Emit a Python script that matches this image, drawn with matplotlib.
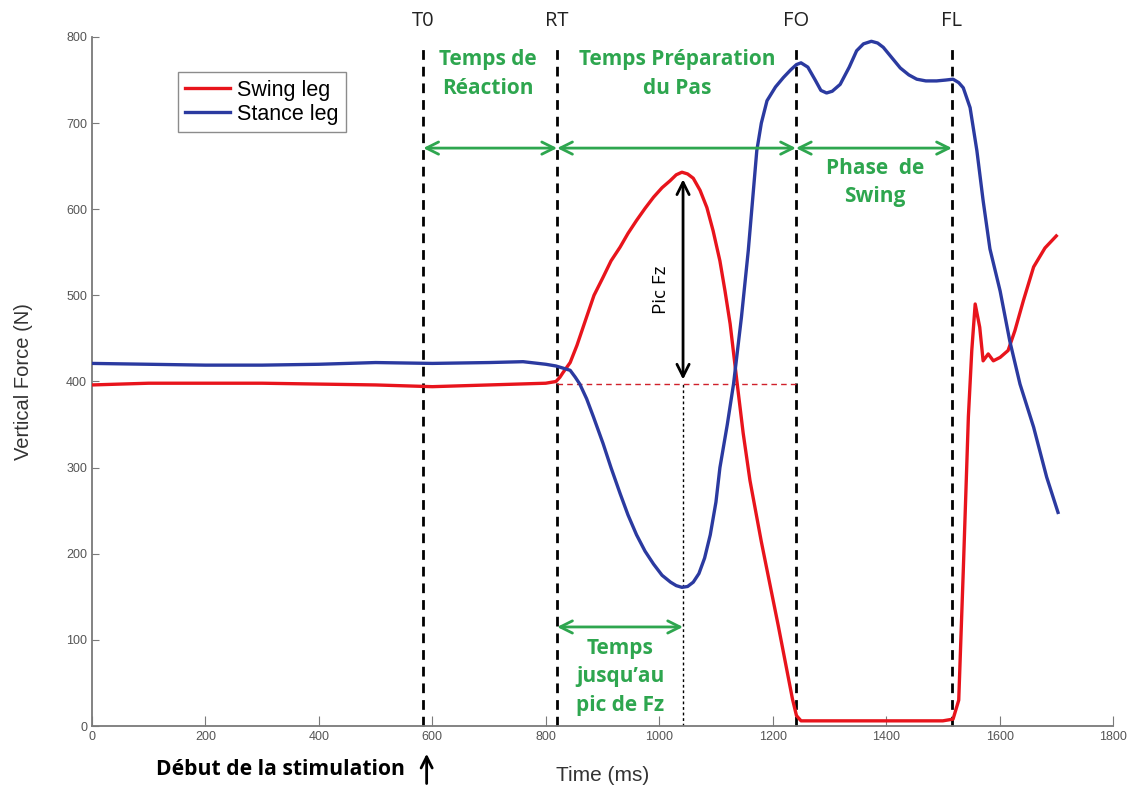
import matplotlib.pyplot as plt

# --- data ---
swing_t = [0, 100, 200, 300, 400, 500, 600, 700, 800, 818, 825, 830, 843, 855, 872, 885, 901,
           915, 931, 945, 960, 975, 990, 1005, 1019, 1030, 1040, 1050, 1060, 1072, 1084, 1095,
           1107, 1116, 1125, 1137, 1148, 1160, 1180, 1195, 1210, 1225, 1235, 1242, 1250, 1300,
           1400, 1500, 1518, 1528, 1536, 1545, 1551, 1557, 1565, 1571, 1580, 1589, 1601, 1615,
           1627, 1642, 1660, 1680, 1700]
swing_f = [396, 398, 398, 398, 397, 396, 394, 396, 398, 400, 405, 410, 422, 442, 475, 500, 521,
           540, 556, 572, 587, 601, 614, 625, 633, 640, 643, 641, 636, 622, 602, 575,
           540, 505, 467, 400, 340, 285, 214, 165, 116, 65, 31, 12, 6, 6,
           6, 6, 8, 30, 180, 359, 436, 490, 463, 424, 432, 424, 428, 436,
           459, 494, 533, 555, 569]

stance_t = [0, 100, 200, 300, 400, 500, 600, 700, 760, 800, 818, 843, 852, 860, 872, 884, 901,
            915, 931, 945, 960, 975, 990, 1005, 1020, 1030, 1040, 1050, 1060, 1070, 1080, 1090,
            1100, 1107, 1120, 1131, 1145, 1157, 1172, 1180, 1190, 1205, 1219, 1232, 1242, 1250,
            1262, 1275, 1285, 1295, 1305, 1319, 1335, 1348, 1360, 1374, 1385, 1395, 1410, 1425,
            1440, 1454, 1470, 1489, 1505, 1518, 1528, 1536, 1548, 1560, 1571, 1583, 1601, 1618,
            1636, 1660, 1683, 1703]
stance_f = [421, 420, 419, 419, 420, 422, 421, 422, 423, 420, 418, 413, 405, 397, 380, 359, 328,
            300, 270, 245, 222, 203, 188, 175, 167, 163, 161, 162, 167, 177, 195, 222,
            260, 300, 350, 397, 475, 552, 668, 700, 726, 742, 753, 762, 768, 770,
            765, 750, 738, 735, 737, 745, 765, 784, 792, 795, 793, 788, 776, 764,
            756, 751, 749, 749, 750, 751, 747, 741, 718, 668, 610, 554, 505, 447,
            397, 347, 289, 248]

events = [584, 820, 1241, 1516]          # T0, RT, FO, FL
event_labels = ['T0', 'RT', 'FO', 'FL']
t_peak = 1042
f_base = 397
f_peak = 642

green = '#2EA64F'
ann_font = ['Open Sans', 'DejaVu Sans']

plt.rcParams['font.family'] = ['Liberation Sans', 'DejaVu Sans']

fig = plt.figure(figsize=(11.27, 7.87), dpi=100)
ax = fig.add_axes([0.0816, 0.0775, 0.906, 0.8755])

ax.plot(swing_t, swing_f, color='#E8141C', lw=2.4, label='Swing leg', zorder=3)
ax.plot(stance_t, stance_f, color='#2B3AA0', lw=2.4, label='Stance leg', zorder=3)

# lignes verticales des événements
for t, lab in zip(events, event_labels):
    ax.plot([t, t], [0, 790], color='black', lw=2, dashes=(3.5, 2.5), zorder=2, clip_on=False)
    ax.text(t, 818, lab, ha='center', va='center', fontsize=14.5, family=ann_font,
            color='#222222', clip_on=False)

# pic de Fz
ax.plot([t_peak, t_peak], [0, f_base], color='black', lw=1, dashes=(2, 2), zorder=2)
ax.plot([events[1], events[2]], [f_base, f_base], color='#D0202A', lw=1, dashes=(4, 3), zorder=2)
ax.annotate('', xy=(t_peak, f_peak - 4), xytext=(t_peak, f_base + 2),
            arrowprops=dict(arrowstyle='<->', color='black', lw=2, mutation_scale=22))
ax.text(1004, 507, 'Pic Fz', rotation=90, ha='center', va='center', fontsize=13.5,
        family=ann_font)

# flèches vertes
arrow_kw = dict(arrowstyle='<->', color=green, lw=2, mutation_scale=22, shrinkA=0, shrinkB=0)
for a, b in [(events[0], events[1]), (events[1], events[2]), (events[2], events[3])]:
    ax.annotate('', xy=(b, 671), xytext=(a, 671), arrowprops=arrow_kw)
ax.annotate('', xy=(t_peak, 115), xytext=(events[1], 115), arrowprops=arrow_kw)

txt_kw = dict(color=green, fontsize=15, fontweight='bold', family=ann_font, ha='center',
              va='center', linespacing=1.45)
ax.text(698, 757, 'Temps de\nRéaction', **txt_kw)
ax.text(1031, 757, 'Temps Préparation\ndu Pas', **txt_kw)
ax.text(1380, 631, 'Phase  de\nSwing', **txt_kw)
ax.text(931, 57, 'Temps\njusqu’au\npic de Fz', **txt_kw)

# début de la stimulation
ax.annotate('', xy=(590, -29), xytext=(590, -70), annotation_clip=False,
            arrowprops=dict(arrowstyle='->', color='black', lw=2, mutation_scale=20))
ax.text(333, -51, 'Début de la stimulation', ha='center', va='center', fontsize=15.2,
        fontweight='bold', family=ann_font, clip_on=False)

ax.set_xlim(0, 1800)
ax.set_ylim(0, 800)
ax.set_xticks(range(0, 1801, 200))
ax.set_yticks(range(0, 801, 100))
ax.spines['top'].set_visible(False)
ax.spines['right'].set_visible(False)
for s in ['left', 'bottom']:
    ax.spines[s].set_color('#7a7a7a')
    ax.spines[s].set_linewidth(1.3)
ax.tick_params(axis='both', direction='in', colors='#7a7a7a', labelcolor='#555555', labelsize=9)
ax.tick_params(axis='x', length=7)
ax.tick_params(axis='y', length=5)

ax.set_xlabel('Time (ms)', fontsize=15, color='#333333', labelpad=17)
ax.set_ylabel('Vertical Force (N)', fontsize=14.5, color='#333333', labelpad=24)

leg = ax.legend(loc='upper left', bbox_to_anchor=(0.084, 0.949), fontsize=15.5,
                handlelength=2.1, fancybox=False, edgecolor='#707070', borderpad=0.35,
                labelspacing=0.15, handletextpad=0.3, borderaxespad=0)
leg.get_frame().set_linewidth(1)

fig.savefig('out.png', dpi=100)
